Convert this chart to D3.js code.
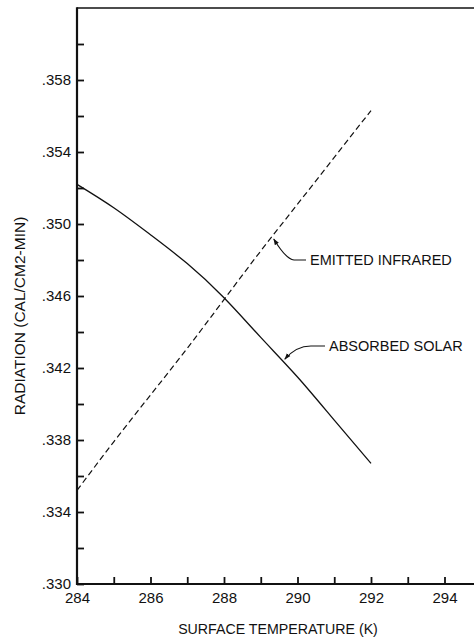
<!DOCTYPE html>
<html>
<head>
<meta charset="utf-8">
<script src="https://cdn.jsdelivr.net/npm/d3@7/dist/d3.min.js"></script>
<style>
  html, body { margin: 0; padding: 0; background: #fff; }
  svg { display: block; }
  text { font-family: "Liberation Sans", Arial, sans-serif; fill: #111; }
</style>
</head>
<body>
<svg id="chart" width="474" height="639"></svg>
<script>
// ---- data ----
const temperatures = [284, 285, 286, 287, 288, 289, 290, 291, 292];
const absorbedSolar = [0.3522, 0.3509, 0.3494, 0.3478, 0.3459, 0.3437, 0.3415, 0.3391, 0.3367];
const emittedInfrared = [0.3352, 0.3379, 0.3405, 0.3431, 0.3458, 0.3485, 0.3511, 0.3537, 0.3563];
const xTicks = [284, 285, 286, 287, 288, 289, 290, 291, 292, 293, 294];
const xTickLabels = ["284", "", "286", "", "288", "", "290", "", "292", "", "294"];
const yTicks = [0.330, 0.332, 0.334, 0.336, 0.338, 0.340, 0.342, 0.344, 0.346, 0.348, 0.350, 0.352, 0.354, 0.356, 0.358, 0.360];
const yTickLabels = [".330", "", ".334", "", ".338", "", ".342", "", ".346", "", ".350", "", ".354", "", ".358", ""];
const seriesNames = ["EMITTED INFRARED", "ABSORBED SOLAR"];
const xTitle = "SURFACE TEMPERATURE (K)";
const yTitle = "RADIATION (CAL/CM2-MIN)";

// ---- layout ----
const svg = d3.select("#chart");
const mLeft = 77, mRight = 474, mTop = 8, mBottom = 584;
const x = d3.scaleLinear().domain([284, 284 + (mRight - mLeft) / 36.75]).range([mLeft, mRight]);
const y = d3.scaleLinear().domain([0.330, 0.362]).range([mBottom, mTop]);

// frame: top border
svg.append("line")
  .attr("x1", mLeft).attr("x2", mRight).attr("y1", mTop).attr("y2", mTop)
  .attr("stroke", "#111").attr("stroke-width", 1.6);

// axes
const xAxis = d3.axisBottom(x)
  .tickValues(xTicks)
  .tickFormat((d, i) => xTickLabels[i])
  .tickSizeInner(-7).tickSizeOuter(0).tickPadding(7);
const yAxis = d3.axisLeft(y)
  .tickValues(yTicks)
  .tickFormat((d, i) => yTickLabels[i])
  .tickSizeInner(-7).tickSizeOuter(0).tickPadding(6);

const gx = svg.append("g").attr("transform", `translate(0,${mBottom})`).call(xAxis);
const gy = svg.append("g").attr("transform", `translate(${mLeft},0)`).call(yAxis);
[gx, gy].forEach(g => {
  g.select(".domain").attr("stroke", "#111").attr("stroke-width", 2.2);
  g.selectAll(".tick line").attr("stroke", "#111").attr("stroke-width", 1.8);
  g.selectAll(".tick text").attr("font-size", 15)
    .attr("font-family", "'Liberation Sans', Arial, sans-serif").attr("fill", "#111");
});
gx.select(".domain").attr("d", `M${mLeft - 1},0H${mRight}`);
gy.select(".domain").attr("d", `M0,${mBottom + 1}V${mTop - 0.8}`);
gx.selectAll(".tick text").attr("dy", "0.8em");

// lines
const line = d3.line().x((d, i) => x(temperatures[i])).y(d => y(d)).curve(d3.curveNatural);
svg.append("path").datum(absorbedSolar)
  .attr("d", line).attr("fill", "none").attr("stroke", "#111").attr("stroke-width", 1.3);
svg.append("path").datum(emittedInfrared)
  .attr("d", line).attr("fill", "none").attr("stroke", "#111").attr("stroke-width", 1.2)
  .attr("stroke-dasharray", "6,3.5");

// arrow marker
const defs = svg.append("defs");
defs.append("marker").attr("id", "arr").attr("viewBox", "0 0 10 10")
  .attr("refX", 9).attr("refY", 5).attr("markerWidth", 6).attr("markerHeight", 6)
  .attr("orient", "auto")
  .append("path").attr("d", "M0,1.5 L10,5 L0,8.5 z").attr("fill", "#111");

// annotations anchored to the series
function annotate(series, tIdx, tVal, tipDx, tipDy, name, textX, textY) {
  const tx = x(tVal) + tipDx;
  const ty = y(d3.interpolateNumber(series[tIdx], series[tIdx + 1])(tVal - temperatures[tIdx])) + tipDy;
  const sx = textX - 4, sy = textY;
  const path = d3.path();
  path.moveTo(sx, sy);
  path.lineTo(sx - 12, sy);
  path.quadraticCurveTo(tx + 12, sy - 1, tx, ty);
  svg.append("path").attr("d", path.toString()).attr("fill", "none")
    .attr("stroke", "#111").attr("stroke-width", 1.1).attr("marker-end", "url(#arr)");
  svg.append("text").attr("x", textX).attr("y", textY).attr("dy", "0.36em")
    .attr("font-size", 14.5).text(name);
}
annotate(emittedInfrared, 5, 289.3, 2, 2, seriesNames[0], 310, 260);
annotate(absorbedSolar, 5, 289.6, 2, -2, seriesNames[1], 329, 346);

// titles
svg.append("text").attr("x", 278).attr("y", 629).attr("dy", "0.36em")
  .attr("text-anchor", "middle").attr("font-size", 14.2).text(xTitle);
svg.append("text").attr("transform", "translate(19,316) rotate(-90)").attr("dy", "0.36em")
  .attr("text-anchor", "middle").attr("font-size", 15.5).text(yTitle);
</script>
</body>
</html>
